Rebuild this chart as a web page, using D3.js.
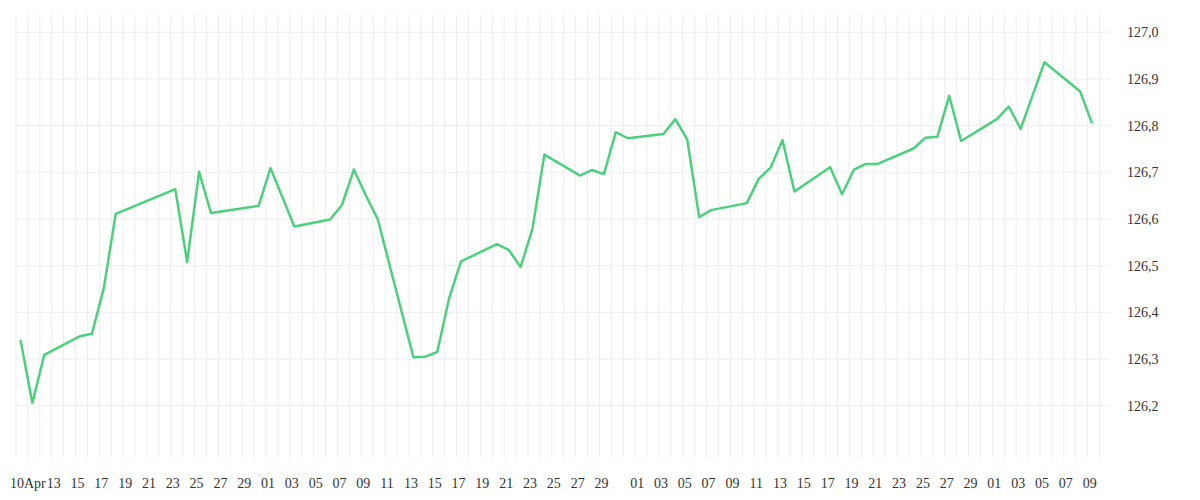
<!DOCTYPE html>
<html>
<head>
<meta charset="utf-8">
<script src="https://cdn.jsdelivr.net/npm/d3@7"></script>
<style>
  body { margin: 0; background: #fff; }
  text { font-family: "Liberation Serif", serif; fill: #333; }
</style>
</head>
<body>
<div id="chart"></div>
<script>
// day offset from 10 Apr, and the price
const dayOffsets = [0, 1, 2, 5, 6, 7, 8, 13, 14, 15, 16, 20, 21, 23, 26, 27, 28, 29, 30,
  33, 34, 35, 36, 37, 40, 41, 42, 43, 44, 47, 48, 49, 50, 51, 54, 55, 56, 57, 58,
  61, 62, 63, 64, 65, 68, 69, 70, 71, 72, 75, 76, 77, 78, 79, 82, 83, 84, 86, 89, 90];
const prices = [126.341, 126.206, 126.309, 126.349, 126.354, 126.452, 126.611, 126.664, 126.508, 126.701,
  126.613, 126.628, 126.709, 126.584, 126.599, 126.630, 126.706, 126.651, 126.600,
  126.304, 126.305, 126.315, 126.430, 126.509, 126.546, 126.534, 126.497, 126.579, 126.738,
  126.693, 126.705, 126.696, 126.786, 126.773, 126.782, 126.814, 126.770, 126.604, 126.619,
  126.634, 126.686, 126.710, 126.769, 126.659, 126.711, 126.653, 126.706, 126.718, 126.718,
  126.751, 126.774, 126.776, 126.864, 126.767, 126.814, 126.841, 126.793, 126.936, 126.873, 126.805];
const yTicks = [126.2, 126.3, 126.4, 126.5, 126.6, 126.7, 126.8, 126.9, 127.0];

const start = new Date(2019, 3, 10);
const data = dayOffsets.map((d, i) => ({
  date: d3.timeHour.offset(d3.timeDay.offset(start, d), 9),
  value: prices[i]
}));

const svg = d3.select('#chart').append('svg').attr('width', 1200).attr('height', 500);

const x = d3.scaleTime()
  .domain([start, d3.timeDay.offset(start, 90)])
  .range([16, 16 + 90 * 11.907]);
const y = d3.scaleLinear().domain([126.2, 127.0]).range([405.7, 32.3]);

const gridTop = 15, gridBottom = 457, gridRight = 1110;

// grid
const days = d3.timeDay.range(start, d3.timeDay.offset(start, 92)).filter(d => x(d) <= gridRight);
svg.append('g').selectAll('line').data(days).enter().append('line')
  .attr('x1', d => x(d)).attr('x2', d => x(d))
  .attr('y1', gridTop).attr('y2', gridBottom)
  .attr('stroke', '#ededed').attr('stroke-width', 1);
svg.append('g').selectAll('line').data(yTicks).enter().append('line')
  .attr('x1', 16).attr('x2', gridRight)
  .attr('y1', d => y(d)).attr('y2', d => y(d))
  .attr('stroke', '#ededed').attr('stroke-width', 1);

// x labels: every odd day, 31 dropped, first one carries the month
const labelDays = days.filter(d => +d === +start || (d.getDate() % 2 === 1 && d.getDate() !== 31 && d >= new Date(2019, 3, 13)));
svg.append('g').selectAll('text').data(labelDays).enter().append('text')
  .attr('x', d => +d === +start ? x(d) - 6 : x(d) + 2)
  .attr('y', 488)
  .attr('text-anchor', d => +d === +start ? 'start' : 'middle')
  .attr('font-size', 14)
  .text(d => +d === +start ? '10Apr' : d3.timeFormat('%d')(d));

// y labels on the right
svg.append('g').selectAll('text').data(yTicks).enter().append('text')
  .attr('x', 1127).attr('y', d => y(d) + 5)
  .attr('font-size', 14)
  .text(d => d.toFixed(1).replace('.', ','));

const line = d3.line().x(d => x(d.date)).y(d => y(d.value));
svg.append('path').datum(data)
  .attr('d', line)
  .attr('fill', 'none')
  .attr('stroke', '#4cd07d')
  .attr('stroke-width', 2.5)
  .attr('stroke-linejoin', 'round');
</script>
</body>
</html>
